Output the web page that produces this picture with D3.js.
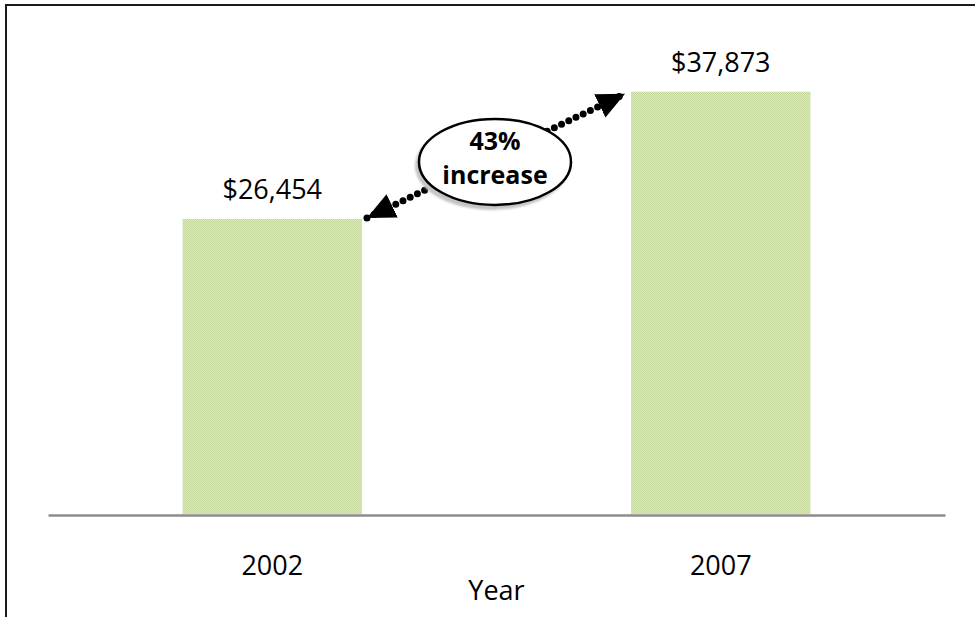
<html>
<head>
    <script src="https://cdn.jsdelivr.net/npm/d3@7"></script>
    <style>
        body { margin: 0; background: #fff; }
        text { font-family: "Open Sans", sans-serif; fill: #000; }
    </style>
</head>
<body>
    <svg id="chart" width="975" height="617"></svg>
    <script>
        // chart values
        var years = ["2002", "2007"];
        var incomes = [26454, 37873];
        var changeLabel = ["43%", "increase"];
        var axisTitle = "Year";

        var svg = d3.select("#chart");

        // outer frame (only the top and left edges fall inside the picture)
        svg.append("rect")
            .attr("x", 6).attr("y", 5)
            .attr("width", 1100).attr("height", 800)
            .attr("fill", "none")
            .attr("stroke", "#1a1a1a")
            .attr("stroke-width", 2);

        // checkered green fill
        var defs = svg.append("defs");
        var pat = defs.append("pattern")
            .attr("id", "check")
            .attr("width", 2).attr("height", 2)
            .attr("patternUnits", "userSpaceOnUse");
        pat.append("rect").attr("width", 2).attr("height", 2).attr("fill", "#dde9c6");
        pat.append("rect").attr("width", 1).attr("height", 1).attr("fill", "#c4d89e");
        pat.append("rect").attr("x", 1).attr("y", 1).attr("width", 1).attr("height", 1).attr("fill", "#c4d89e");

        var blur = defs.append("filter").attr("id", "soft");
        blur.append("feGaussianBlur").attr("stdDeviation", 1.2);

        var marker = defs.append("marker")
            .attr("id", "head")
            .attr("markerUnits", "userSpaceOnUse")
            .attr("viewBox", "0 0 28 26")
            .attr("refX", 28).attr("refY", 13)
            .attr("markerWidth", 28).attr("markerHeight", 26)
            .attr("orient", "auto-start-reverse");
        marker.append("path").attr("d", "M0,0 L28,13 L0,26 Z").attr("fill", "#000");

        var x = d3.scaleBand()
            .domain(years)
            .range([48, 945])
            .paddingInner(0.6)
            .paddingOuter(0.3);

        var y = d3.scaleLinear()
            .domain([0, 40000])
            .range([514, 68]);

        svg.selectAll("rect.bar")
            .data(years)
            .enter()
            .append("rect")
            .attr("class", "bar")
            .attr("x", (d) => x(d))
            .attr("y", (d, i) => y(incomes[i]))
            .attr("width", x.bandwidth())
            .attr("height", (d, i) => y(0) - y(incomes[i]))
            .attr("fill", "url(#check)");

        svg.selectAll("text.value")
            .data(years)
            .enter()
            .append("text")
            .attr("class", "value")
            .attr("x", (d) => x(d) + x.bandwidth() / 2)
            .attr("y", (d, i) => y(incomes[i]) - 20)
            .attr("text-anchor", "middle")
            .attr("font-size", 27)
            .text((d, i) => "$" + d3.format(",")(incomes[i]));

        // x axis
        var xAxis = svg.append("g")
            .attr("transform", "translate(0," + (y(0) + 1) + ")")
            .call(d3.axisBottom(x).tickSize(0).tickSizeOuter(0));
        xAxis.select(".domain")
            .attr("stroke", "#8c8c8c")
            .attr("stroke-width", 2.5);
        xAxis.selectAll(".tick text")
            .attr("y", 60)
            .attr("dy", 0)
            .attr("font-size", 27)
            .attr("font-family", "Open Sans, sans-serif")
            .attr("fill", "#000");

        svg.append("text")
            .attr("x", (x.range()[0] + x.range()[1]) / 2)
            .attr("y", 600)
            .attr("text-anchor", "middle")
            .attr("font-size", 27)
            .text(axisTitle);

        // dotted double arrow between the bar tops
        var x0 = x(years[0]) + x.bandwidth() + 5, y0 = y(incomes[0]) - 1;
        var x1 = x(years[1]) - 6, y1 = y(incomes[1]) + 2;
        svg.append("line")
            .attr("x1", x0).attr("y1", y0)
            .attr("x2", x1).attr("y2", y1)
            .attr("stroke", "#000")
            .attr("stroke-width", 7)
            .attr("stroke-linecap", "round")
            .attr("stroke-dasharray", "0 8")
            .attr("marker-start", "url(#head)")
            .attr("marker-end", "url(#head)");

        var cx = (x0 + x1) / 2 - 1, cy = (y0 + y1) / 2 + 6;
        svg.append("ellipse")
            .attr("cx", cx - 3).attr("cy", cy + 4)
            .attr("rx", 77).attr("ry", 44)
            .attr("fill", "#c4c4c4")
            .attr("filter", "url(#soft)");
        svg.append("ellipse")
            .attr("cx", cx).attr("cy", cy)
            .attr("rx", 76).attr("ry", 43)
            .attr("fill", "#fff")
            .attr("stroke", "#000")
            .attr("stroke-width", 2.5);

        svg.selectAll("text.change")
            .data(changeLabel)
            .enter()
            .append("text")
            .attr("class", "change")
            .attr("x", cx)
            .attr("y", (d, i) => cy - 12 + i * 34)
            .attr("text-anchor", "middle")
            .attr("font-size", 25)
            .attr("font-weight", "bold")
            .text((d) => d);
    </script>
</body>
</html>
